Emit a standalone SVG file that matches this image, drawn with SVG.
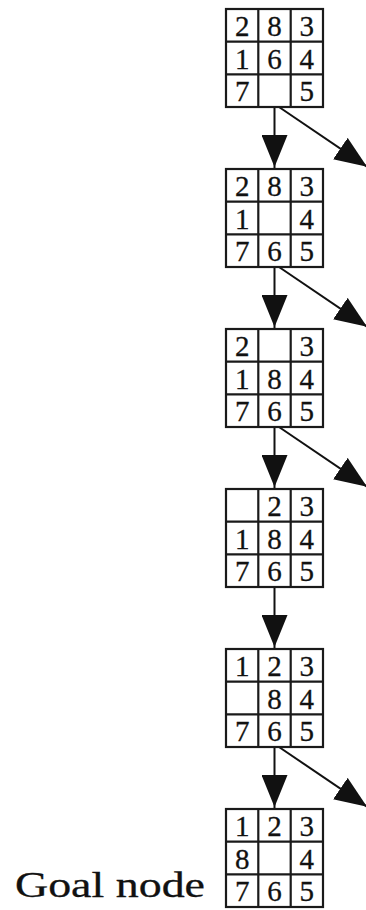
<svg xmlns="http://www.w3.org/2000/svg" width="366" height="910" viewBox="0 0 366 910">
<style>
.bd text{font-size:29px;fill:#111;stroke:#111;stroke-width:0.3;text-anchor:middle}
.edge{stroke:#111;stroke-width:2;fill:none;marker-end:url(#ah)}
.lbl{font-size:35px;fill:#111;stroke:#111;stroke-width:0.3}
</style>
<defs>
<marker id="ah" viewBox="0 0 32 26" refX="34" refY="13" markerWidth="32" markerHeight="26" markerUnits="userSpaceOnUse" orient="auto">
<path d="M0,0 L32,13 L0,26 z" fill="#111"/>
</marker>
<g id="grid" fill="#fff" stroke="#1a1a1a" stroke-width="2.2">
<rect x="0" y="0" width="97" height="98"/>
<line x1="32.3" y1="0" x2="32.3" y2="98"/>
<line x1="64.7" y1="0" x2="64.7" y2="98"/>
<line x1="0" y1="32.7" x2="97" y2="32.7"/>
<line x1="0" y1="65.3" x2="97" y2="65.3"/>
</g>
</defs>
<g id="connectors">
<path class="edge" d="M274.5,107 V169"/>
<path class="edge" d="M279,107 L368.5,167.7"/>
<path class="edge" d="M274.5,267 V329"/>
<path class="edge" d="M279,267 L368.5,327.7"/>
<path class="edge" d="M274.5,427 V489"/>
<path class="edge" d="M279,427 L368.5,487.7"/>
<path class="edge" d="M274.5,587 V649"/>
<path class="edge" d="M274.5,747 V809"/>
<path class="edge" d="M279,747 L368.5,807.7"/>
</g>
<g font-family="Liberation Serif, Times New Roman, serif">
<g id="n1" class="bd" transform="translate(226,9)">
<use href="#grid"/>
<text x="16.2" y="27">2</text><text x="48.5" y="27">8</text><text x="80.8" y="27">3</text>
<text x="16.2" y="59.7">1</text><text x="48.5" y="59.7">6</text><text x="80.8" y="59.7">4</text>
<text x="16.2" y="92.4">7</text><text x="80.8" y="92.4">5</text>
</g>
<g id="n2" class="bd" transform="translate(226,169)">
<use href="#grid"/>
<text x="16.2" y="27">2</text><text x="48.5" y="27">8</text><text x="80.8" y="27">3</text>
<text x="16.2" y="59.7">1</text><text x="80.8" y="59.7">4</text>
<text x="16.2" y="92.4">7</text><text x="48.5" y="92.4">6</text><text x="80.8" y="92.4">5</text>
</g>
<g id="n3" class="bd" transform="translate(226,329)">
<use href="#grid"/>
<text x="16.2" y="27">2</text><text x="80.8" y="27">3</text>
<text x="16.2" y="59.7">1</text><text x="48.5" y="59.7">8</text><text x="80.8" y="59.7">4</text>
<text x="16.2" y="92.4">7</text><text x="48.5" y="92.4">6</text><text x="80.8" y="92.4">5</text>
</g>
<g id="n4" class="bd" transform="translate(226,489)">
<use href="#grid"/>
<text x="48.5" y="27">2</text><text x="80.8" y="27">3</text>
<text x="16.2" y="59.7">1</text><text x="48.5" y="59.7">8</text><text x="80.8" y="59.7">4</text>
<text x="16.2" y="92.4">7</text><text x="48.5" y="92.4">6</text><text x="80.8" y="92.4">5</text>
</g>
<g id="n5" class="bd" transform="translate(226,649)">
<use href="#grid"/>
<text x="16.2" y="27">1</text><text x="48.5" y="27">2</text><text x="80.8" y="27">3</text>
<text x="48.5" y="59.7">8</text><text x="80.8" y="59.7">4</text>
<text x="16.2" y="92.4">7</text><text x="48.5" y="92.4">6</text><text x="80.8" y="92.4">5</text>
</g>
<g id="n6" class="bd" transform="translate(226,809)">
<use href="#grid"/>
<text x="16.2" y="27">1</text><text x="48.5" y="27">2</text><text x="80.8" y="27">3</text>
<text x="16.2" y="59.7">8</text><text x="80.8" y="59.7">4</text>
<text x="16.2" y="92.4">7</text><text x="48.5" y="92.4">6</text><text x="80.8" y="92.4">5</text>
</g>
<g id="goal-label">
<text class="lbl" x="15" y="897" textLength="190" lengthAdjust="spacingAndGlyphs">Goal node</text>
</g>
</g>
</svg>
